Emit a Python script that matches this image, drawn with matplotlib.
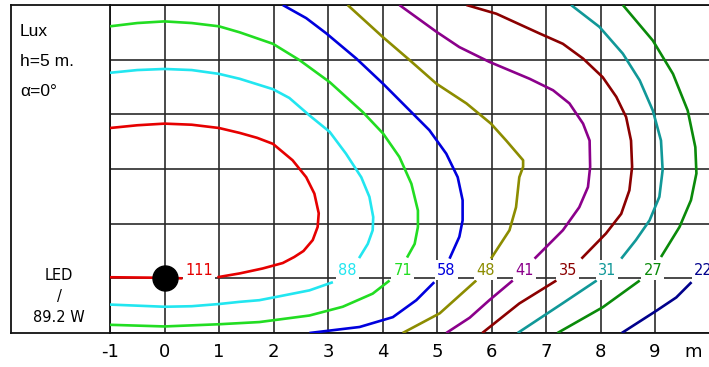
import numpy as np
import matplotlib
matplotlib.use("Agg")
import matplotlib.pyplot as plt

nan = np.nan

# ---- data ----
levels = ["111", "88", "71", "58", "48", "41", "35", "31", "27", "22"]
colors = ["#e60000", "#22e6f0", "#22dd22", "#0000dd", "#8c8c00",
          "#8b008b", "#8b0000", "#119898", "#0a8a0a", "#00008b"]
label_x = [0.63, 3.36, 4.37, 5.17, 5.89, 6.60, 7.40, 8.12, 8.96, 9.89]

c111_x = [-1.0, -0.5, 0.0, 0.5, 1.0, 1.38, 1.70, 1.99, 2.35, 2.60, 2.75, 2.83, 2.81, 2.72, 2.55, 2.38, 2.17, 1.80, 1.38, 0.97, nan, 0.33, 0.0, -1.0]
c111_y = [2.75, 2.80, 2.83, 2.81, 2.75, 2.66, 2.57, 2.46, 2.16, 1.85, 1.55, 1.19, 0.94, 0.70, 0.50, 0.39, 0.28, 0.18, 0.09, 0.02, nan, 0.0, 0.01, 0.02]

c88_x = [-1.0, -0.5, 0.0, 0.5, 1.0, 1.38, 1.99, 2.29, 2.66, 3.03, 3.33, 3.61, 3.76, 3.83, 3.82, 3.73, 3.57, nan, 3.09, 2.66, 2.05, 1.74, 1.38, 1.0, 0.5, 0.0, -1.0]
c88_y = [3.76, 3.81, 3.83, 3.81, 3.74, 3.65, 3.46, 3.30, 2.98, 2.68, 2.28, 1.85, 1.49, 1.12, 0.88, 0.63, 0.37, nan, -0.07, -0.22, -0.34, -0.40, -0.43, -0.47, -0.51, -0.52, -0.48]

c71_x = [-1.0, -0.5, 0.0, 0.5, 1.0, 1.38, 1.99, 2.48, 3.03, 3.64, 4.01, 4.31, 4.53, 4.65, 4.65, 4.59, 4.45, nan, 4.13, 3.82, 3.27, 2.66, 1.74, 1.0, 0.0, -1.0]
c71_y = [4.61, 4.67, 4.70, 4.67, 4.61, 4.50, 4.29, 3.99, 3.59, 3.04, 2.65, 2.22, 1.73, 1.24, 0.94, 0.63, 0.38, nan, -0.04, -0.28, -0.52, -0.68, -0.80, -0.84, -0.88, -0.85]

c58_x = [2.17, 2.60, 2.97, 3.52, 4.01, 4.50, 4.86, 5.17, 5.38, 5.47, 5.47, 5.41, 5.23, nan, 4.95, 4.62, 4.19, 3.58, 2.66]
c58_y = [5.0, 4.76, 4.48, 4.02, 3.56, 3.07, 2.71, 2.28, 1.85, 1.43, 1.06, 0.76, 0.36, nan, -0.07, -0.40, -0.71, -0.89, -1.0]

c48_x = [3.36, 4.01, 4.50, 4.99, 5.54, 5.99, 6.27, 6.58, 6.58, 6.51, 6.45, 6.33, 5.99, nan, 5.72, 5.05, 4.37]
c48_y = [5.0, 4.41, 3.99, 3.56, 3.20, 2.83, 2.52, 2.16, 2.04, 1.85, 1.30, 0.88, 0.36, nan, -0.04, -0.64, -1.0]

c41_x = [4.31, 4.99, 5.41, 5.96, 6.70, 7.13, 7.43, 7.68, 7.80, 7.81, 7.77, 7.61, 7.31, 6.79, nan, 6.39, 5.96, 5.60, 5.17]
c41_y = [5.0, 4.51, 4.23, 3.96, 3.65, 3.44, 3.20, 2.83, 2.52, 2.04, 1.67, 1.30, 0.88, 0.36, nan, -0.04, -0.40, -0.72, -1.0]

c35_x = [5.54, 6.09, 6.88, 7.31, 7.68, 8.04, 8.29, 8.47, 8.56, 8.58, 8.53, 8.38, 8.10, 7.65, nan, 7.19, 6.51, 5.83]
c35_y = [5.0, 4.84, 4.48, 4.29, 4.02, 3.68, 3.32, 2.95, 2.52, 2.04, 1.61, 1.18, 0.82, 0.36, nan, -0.04, -0.46, -1.0]

c31_x = [7.46, 7.98, 8.41, 8.72, 8.96, 9.11, 9.14, 9.08, 8.90, 8.65, 8.38, nan, 7.93, 7.30, 6.48]
c31_y = [5.0, 4.60, 4.11, 3.62, 3.07, 2.52, 1.98, 1.49, 1.06, 0.70, 0.36, nan, -0.04, -0.46, -1.0]

c27_x = [8.41, 8.96, 9.33, 9.60, 9.74, 9.76, 9.66, 9.45, 9.11, nan, 8.72, 8.04, 7.21]
c27_y = [5.0, 4.35, 3.74, 3.07, 2.40, 1.92, 1.43, 0.94, 0.39, nan, -0.04, -0.53, -1.0]

c22_x = [9.67, 9.39, 9.03, 8.39]
c22_y = [-0.07, -0.35, -0.59, -1.0]

contours_x = [c111_x, c88_x, c71_x, c58_x, c48_x, c41_x, c35_x, c31_x, c27_x, c22_x]
contours_y = [c111_y, c88_y, c71_y, c58_y, c48_y, c41_y, c35_y, c31_y, c27_y, c22_y]

led_x = [0.0]
led_y = [0.0]

tick_pos = [-1, 0, 1, 2, 3, 4, 5, 6, 7, 8, 9]
tick_labels = ["-1", "0", "1", "2", "3", "4", "5", "6", "7", "8", "9"]
unit_pos = [9.7]
unit_label = ["m"]
grid_y = [-1, 0, 1, 2, 3, 4, 5]

# ---- figure ----
W, H = 709, 367
fig = plt.figure(figsize=(W / 100, H / 100), dpi=100)

ax = fig.add_axes([110 / W, (H - 333) / H, 599.5 / W, 328 / H])
ax.set_xlim(-1, 10)
ax.set_ylim(-1, 5)

ax.set_xticks(tick_pos)
ax.set_xticklabels(tick_labels, fontsize=13, family="DejaVu Sans")
ax.set_xticks(unit_pos, minor=True)
ax.set_xticklabels(unit_label, minor=True, fontsize=13, family="DejaVu Sans")
ax.set_yticks(grid_y)
ax.set_yticklabels([])
ax.tick_params(axis="both", which="both", length=0, pad=7)
ax.grid(True, which="major", color="#2a2a2a", linewidth=1.2, zorder=1)
ax.set_axisbelow(True)
for s in ["top", "bottom", "left"]:
    ax.spines[s].set_linewidth(1.3)
    ax.spines[s].set_color("#111111")
ax.spines["right"].set_visible(False)

for xs, ys, c in zip(contours_x, contours_y, colors):
    ax.plot(xs, ys, color=c, linewidth=1.9, solid_capstyle="butt",
            solid_joinstyle="round", zorder=3)

for lx, lab, c in zip(label_x, levels, colors):
    ax.text(lx, 0.07, lab, color=c, fontsize=10.5, family="DejaVu Sans",
            ha="center", va="baseline", zorder=5,
            bbox=dict(boxstyle="square,pad=0.15", fc="white", ec="none"))

ax.plot(led_x, led_y, "o", color="black", markersize=18, zorder=6)

# left info panel
lax = fig.add_axes([11 / W, (H - 333) / H, 99 / W, 328 / H])
lax.set_xticks([])
lax.set_yticks([])
lax.spines["right"].set_visible(False)
for s in ["top", "bottom", "left"]:
    lax.spines[s].set_linewidth(1.3)
    lax.spines[s].set_color("#111111")
lax.patch.set_alpha(0)

fig.text(20 / W, 1 - 32 / H, "Lux", fontsize=12.5, family="Liberation Sans", va="center", ha="left")
fig.text(20 / W, 1 - 62 / H, "h=5 m.", fontsize=12.5, family="Liberation Sans", va="center", ha="left")
fig.text(20 / W, 1 - 92 / H, "α=0°", fontsize=12.5, family="Liberation Sans", va="center", ha="left")

fig.text(59 / W, 1 - 275 / H, "LED", fontsize=10.5, family="DejaVu Sans", va="center", ha="center")
fig.text(59 / W, 1 - 297 / H, "/", fontsize=10.5, family="DejaVu Sans", va="center", ha="center")
fig.text(59 / W, 1 - 318 / H, "89.2 W", fontsize=10.5, family="DejaVu Sans", va="center", ha="center")

fig.savefig("out.png", dpi=100)
